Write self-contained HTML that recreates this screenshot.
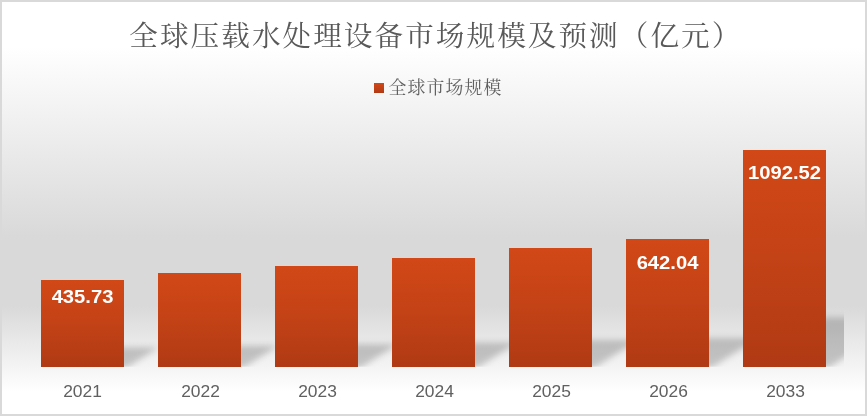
<!DOCTYPE html>
<html lang="zh">
<head>
<meta charset="utf-8">
<title>全球压载水处理设备市场规模及预测（亿元）</title>
<style>
html,body{margin:0;padding:0;background:#fff;}
body{width:867px;height:416px;overflow:hidden;font-family:"Liberation Sans",sans-serif;}
#frame{position:absolute;left:0;top:0;width:867px;height:416px;background:#d9d9d9;}
#chart{position:absolute;left:2px;top:2px;width:863px;height:412px;overflow:hidden;
  background:linear-gradient(to bottom,#ffffff 0px,#ffffff 45px,#d9d9d9 235px,#d9d9d9 304px,#ffffff 390px,#ffffff 412px);}
#chart > *{position:absolute;}
svg.layer{left:-2px;top:-2px;width:867px;height:416px;}
.bar{width:83px;margin-left:-2px;margin-top:-2px;background:linear-gradient(to bottom,#d24817 0%,#c34216 50%,#b03a14 100%);}
.yr{top:379.4px;margin-left:-2px;margin-top:-2px;width:123px;height:24px;line-height:24px;text-align:center;font-size:17.4px;color:#606060;will-change:transform;}
.dl{margin-left:-2px;margin-top:-2px;width:103px;height:24px;line-height:24px;text-align:center;font-size:20.2px;font-weight:bold;color:#ffffff;transform:scaleY(0.92);}
.lgm{left:372px;top:81px;width:10px;height:10px;background:linear-gradient(to bottom,#d24817,#b03a14);}
</style>
</head>
<body>
<div id="frame">
<div id="chart">
<svg class="layer" viewBox="0 0 867 416" aria-hidden="true">
<defs>
<filter id="blur" x="-20%" y="-50%" width="140%" height="200%"><feGaussianBlur stdDeviation="3.3"/></filter>
<clipPath id="plot"><rect x="24" y="60" width="820" height="306.8"/></clipPath>
</defs>
<g clip-path="url(#plot)"><g filter="url(#blur)" fill="#000" fill-opacity="0.195">
<polygon points="43.8,367.4 126.8,367.4 158.4,347.4 75.4,347.4"/>
<polygon points="160.8,367.4 243.8,367.4 277.9,345.8 194.9,345.8"/>
<polygon points="277.8,367.4 360.8,367.4 397.5,344.2 314.5,344.2"/>
<polygon points="394.8,367.4 477.8,367.4 517.4,342.4 434.4,342.4"/>
<polygon points="511.8,367.4 594.8,367.4 638.0,340.1 555.0,340.1"/>
<polygon points="628.8,367.4 711.8,367.4 758.3,338.0 675.3,338.0"/>
<polygon points="745.8,367.4 828.8,367.4 907.7,317.5 824.7,317.5"/>
</g></g>
</svg>
<div class="bar" style="left:41px;top:280px;height:86.8px"></div>
<div class="bar" style="left:158px;top:273px;height:93.8px"></div>
<div class="bar" style="left:275px;top:266px;height:100.8px"></div>
<div class="bar" style="left:392px;top:258px;height:108.8px"></div>
<div class="bar" style="left:509px;top:248px;height:118.8px"></div>
<div class="bar" style="left:626px;top:239px;height:127.8px"></div>
<div class="bar" style="left:743px;top:150px;height:216.8px"></div>
<div class="dl" style="left:31px;top:284.8px">435.73</div>
<div class="dl" style="left:616px;top:250.9px">642.04</div>
<div class="dl" style="left:733px;top:160.7px">1092.52</div>
<div class="yr" style="left:21.0px">2021</div>
<div class="yr" style="left:138.7px">2022</div>
<div class="yr" style="left:256.0px">2023</div>
<div class="yr" style="left:372.8px">2024</div>
<div class="yr" style="left:489.8px">2025</div>
<div class="yr" style="left:607.2px">2026</div>
<div class="yr" style="left:723.9px">2033</div>
<div class="lgm"></div>
<svg class="layer" viewBox="0 0 867 416" role="img" aria-label="全球压载水处理设备市场规模及预测（亿元） 全球市场规模">
<title>全球压载水处理设备市场规模及预测（亿元）</title>
<text x="129.3" y="46" font-size="28.6" fill="#595959" textLength="611" lengthAdjust="spacing" font-family="&quot;Liberation Serif&quot;, &quot;Noto Serif CJK SC&quot;, serif">全球压载水处理设备市场规模及预测（亿元）</text>
<text x="388.5" y="94.2" font-size="17.9" fill="#5f5f5f" textLength="113" lengthAdjust="spacing" font-family="&quot;Liberation Serif&quot;, &quot;Noto Serif CJK SC&quot;, serif">全球市场规模</text>
</svg>
</div>
</div>
</body>
</html>
